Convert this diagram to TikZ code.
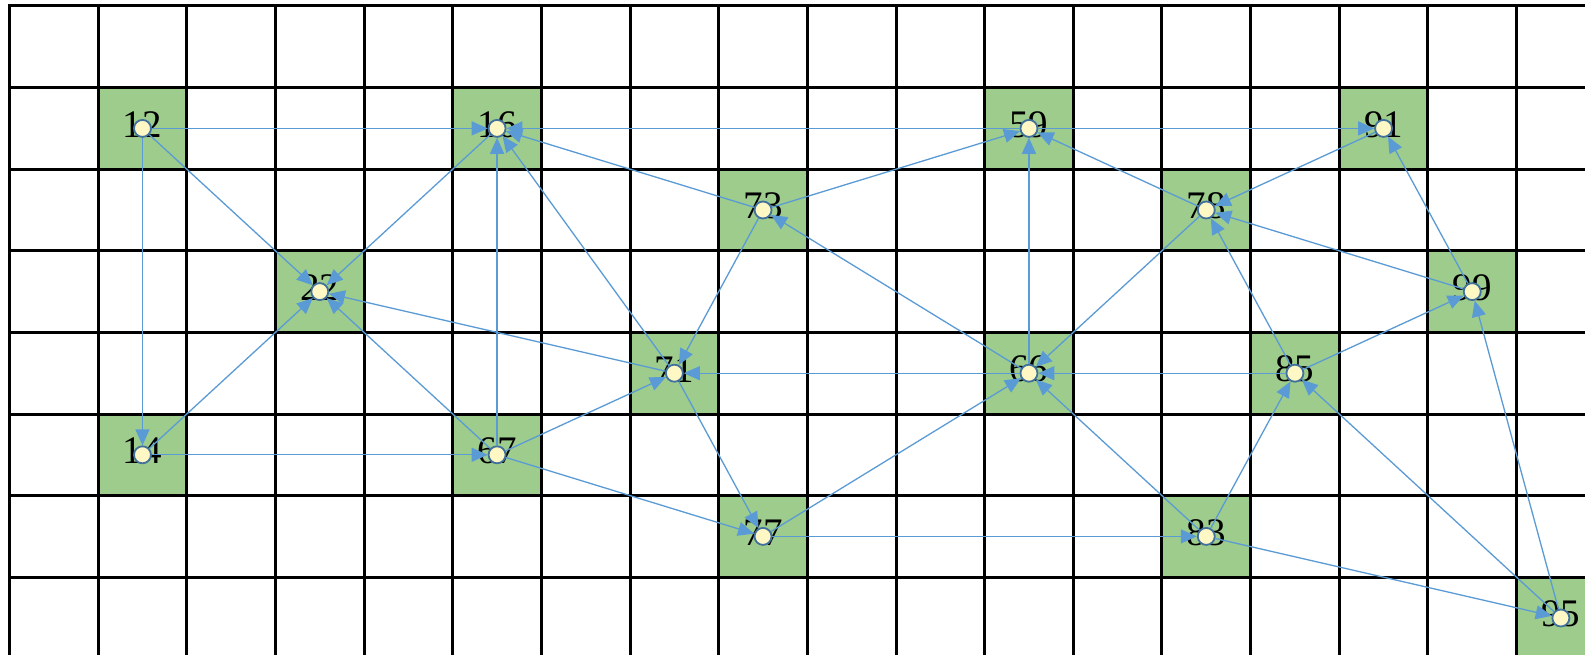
\documentclass[tikz,border=0pt]{standalone}
\usepackage{fontspec}
\setmainfont{Liberation Serif}
\usetikzlibrary{arrows.meta}
\definecolor{cellgreen}{RGB}{157,204,140}
\definecolor{edgeblue}{RGB}{91,155,213}
\definecolor{dotline}{RGB}{65,113,156}
\definecolor{dotfill}{RGB}{255,247,196}
\begin{document}
\begin{tikzpicture}[x=1pt,y=-1pt,
  gridline/.style={draw=black,line width=3pt,line cap=rect},
  numlabel/.style={inner sep=0pt,font=\fontsize{39}{41}\selectfont,text=black},
  dot/.style={circle,draw=dotline,fill=dotfill,line width=1.8pt,minimum size=17pt,inner sep=0pt},
  edge/.style={draw=edgeblue,line width=1.3pt,-{Triangle[length=16pt,width=14pt]}}]
\useasboundingbox (0,0) rectangle (1585,655);
\fill[white] (0,0) rectangle (1585,655);
% shaded cells
\foreach \name/\c/\r in {12/1/1,16/5/1,59/11/1,91/15/1,73/8/2,78/13/2,22/3/3,99/16/3,
  71/7/4,66/11/4,85/14/4,14/1/5,67/5/5,77/8/6,83/13/6,95/17/7}
  \fill[cellgreen] ({9.5+88.65*\c},{6+81.6*\r}) rectangle ++(88.65,81.6);
% grid
\foreach \k in {0,...,17}
  \draw[gridline] ({9.5+88.65*\k},6) -- ({9.5+88.65*\k},670);
\foreach \r in {0,...,7}
  \draw[gridline] (9.5,{6+81.6*\r}) -- (1600,{6+81.6*\r});
% labels and points
\foreach \name/\c/\r in {12/1/1,16/5/1,59/11/1,91/15/1,73/8/2,78/13/2,22/3/3,99/16/3,
  71/7/4,66/11/4,85/14/4,14/1/5,67/5/5,77/8/6,83/13/6,95/17/7}{
  \coordinate (c\name) at ({9.5+88.65*(\c+0.5)},{6+81.6*(\r+0.5)});
  \node[numlabel] (t\name) at ([yshift=4pt]c\name) {\name};
  \node[dot] (n\name) at (c\name) {};
}
% directed links
\foreach \a/\b in {12/16,12/14,12/22,14/22,14/67,16/22,59/16,73/16,71/16,67/16,
  67/22,71/22,67/71,67/77,73/59,73/71,66/73,66/71,71/77,59/91,78/59,66/59,
  91/78,99/91,85/78,99/78,78/66,85/66,83/66,77/66,77/83,83/85,83/95,95/85,
  95/99,85/99}
  \draw[edge] (n\a) -- (n\b);
\end{tikzpicture}
\end{document}
